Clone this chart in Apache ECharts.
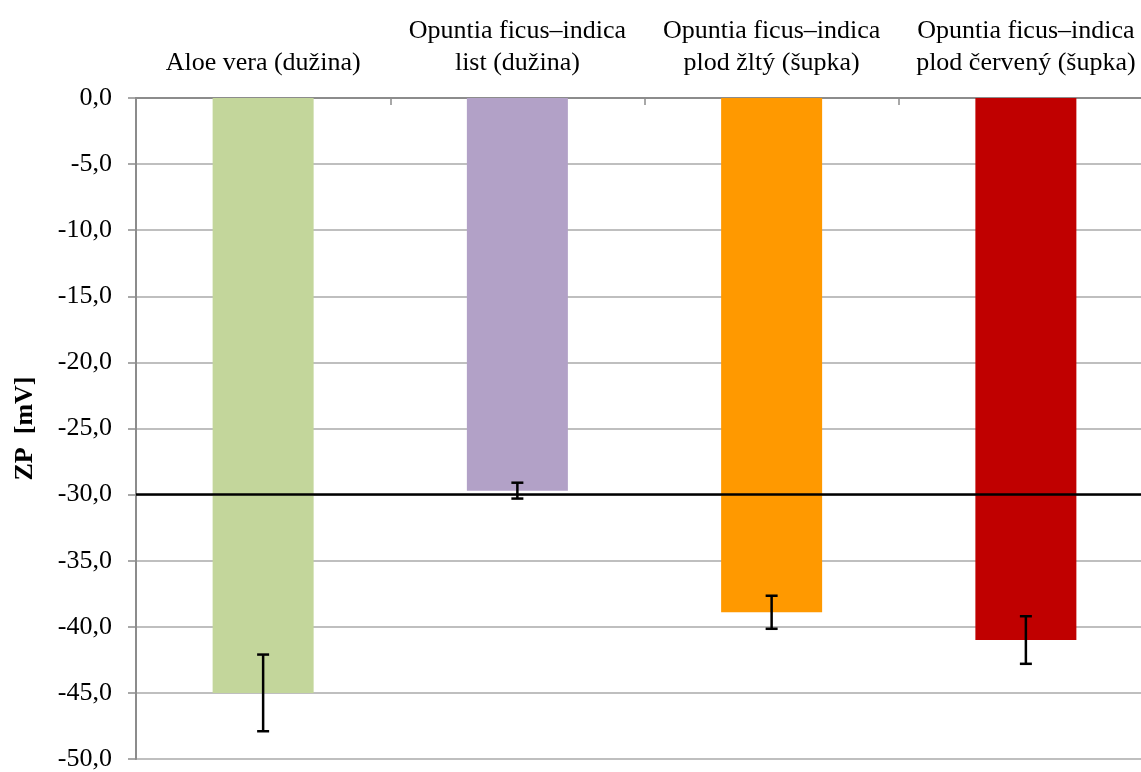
<!DOCTYPE html>
<html>
<head>
<meta charset="utf-8">
<script src="https://cdn.jsdelivr.net/npm/echarts@6/dist/echarts.min.js"></script>
<style>html,body{margin:0;padding:0;background:#fff;overflow:hidden}#c{width:1160px;height:772px}</style>
</head>
<body>
<div id="c"></div>
<script>
const categories = [
  'Aloe vera (dužina)',
  'Opuntia ficus–indica\nlist (dužina)',
  'Opuntia ficus–indica\nplod žltý (šupka)',
  'Opuntia ficus–indica\nplod červený (šupka)'
];
const values = [-45.0, -29.7, -38.9, -41.0];
const errors = [2.9, 0.6, 1.25, 1.8];
const colors = ['#c3d69b', '#b2a1c7', '#ff9900', '#c00000'];
const referenceLine = -30;
const yMin = -50, yMax = 0, yStep = 5;

const chart = echarts.init(document.getElementById('c'), null, {renderer: 'canvas'});
const font = 'Liberation Serif';
chart.setOption({
  animation: false,
  grid: {left: 136, top: 98, bottom: 10, right: 7, containLabel: false},
  xAxis: {
    type: 'category',
    position: 'top',
    data: categories,
    axisLine: {show: true, onZero: false, lineStyle: {color: '#8c8c8c', width: 2}},
    axisTick: {show: true, inside: true, length: 7, lineStyle: {color: '#8c8c8c', width: 1.5}},
    axisLabel: {fontFamily: font, fontSize: 26, color: '#000', lineHeight: 32, margin: 19, interval: 0}
  },
  yAxis: {
    type: 'value',
    min: yMin, max: yMax, interval: yStep,
    name: 'ZP  [mV]',
    nameLocation: 'middle',
    nameGap: 98,
    nameRotate: 90,
    nameTextStyle: {fontFamily: font, fontSize: 26, fontWeight: 'bold', color: '#000'},
    axisLine: {show: true, lineStyle: {color: '#8c8c8c', width: 2}},
    axisTick: {show: true, length: 8, lineStyle: {color: '#8c8c8c', width: 1.5}},
    splitLine: {show: true, lineStyle: {color: '#bfbfbf', width: 2}},
    axisLabel: {
      fontFamily: font, fontSize: 26, color: '#000', margin: 24,
      formatter: v => v.toFixed(1).replace('.', ',')
    }
  },
  series: [
    {
      type: 'bar',
      barWidth: 101,
      data: values.map((v, i) => ({value: v, itemStyle: {color: colors[i]}})),
      markLine: {
        silent: true,
        symbol: 'none',
        label: {show: false},
        lineStyle: {color: '#000', width: 2.5, type: 'solid'},
        data: [{yAxis: referenceLine}]
      },
      z: 2
    },
    {
      type: 'custom',
      data: values.map((v, i) => [i, v - errors[i], v + errors[i]]),
      renderItem: (params, api) => {
        const lo = api.coord([api.value(0), api.value(1)]);
        const hi = api.coord([api.value(0), api.value(2)]);
        const cap = 6;
        const st = {stroke: '#000', lineWidth: 2.5};
        return {
          type: 'group',
          children: [
            {type: 'line', shape: {x1: lo[0], y1: lo[1], x2: hi[0], y2: hi[1]}, style: st},
            {type: 'line', shape: {x1: lo[0] - cap, y1: lo[1], x2: lo[0] + cap, y2: lo[1]}, style: st},
            {type: 'line', shape: {x1: hi[0] - cap, y1: hi[1], x2: hi[0] + cap, y2: hi[1]}, style: st}
          ]
        };
      },
      z: 5
    }
  ]
});
</script>
</body>
</html>
